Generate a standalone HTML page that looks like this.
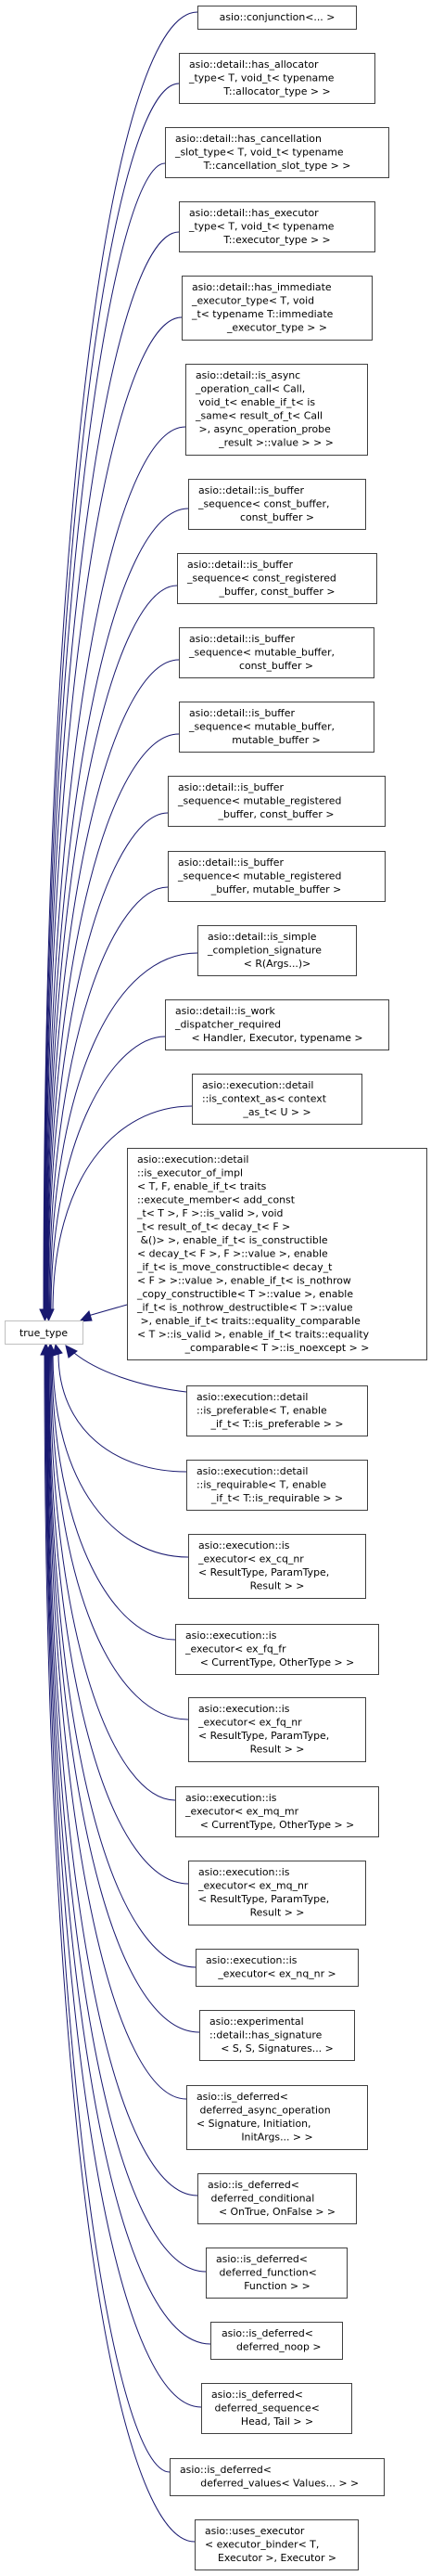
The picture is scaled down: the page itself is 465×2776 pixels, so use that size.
<!DOCTYPE html>
<html><head><meta charset="utf-8"><style>
html,body{margin:0;padding:0;background:#fff;}
svg{display:block;}
text{font-family:"DejaVu Sans","Liberation Sans",sans-serif;font-size:10.9px;fill:#000;white-space:pre;}
.b{fill:#fff;stroke:#404040;stroke-width:1;}
.e{fill:none;stroke:#191970;stroke-width:1;}
.a{fill:#191970;stroke:#191970;}
</style></head><body>
<svg width="465" height="2776" viewBox="0 0 465 2776" xmlns="http://www.w3.org/2000/svg" xml:space="preserve">
<path class="e" d="M213,13 C125,13 47,503 47,1413"/>
<path class="e" d="M193,90 C125,90 47.5,553 47.5,1413"/>
<path class="e" d="M178,176 C125,176 48,609 48,1413"/>
<path class="e" d="M193,250 C125,250 48.5,657 48.5,1413"/>
<path class="e" d="M196,342 C125,342 49,717 49,1413"/>
<path class="e" d="M200,460 C125,460 49.5,794 49.5,1413"/>
<path class="e" d="M203,548 C125,548 50,851 50,1413"/>
<path class="e" d="M191,631 C125,631 50.5,905 50.5,1413"/>
<path class="e" d="M193,711 C125,711 51,957 51,1413"/>
<path class="e" d="M193,791 C125,791 51.5,1009 51.5,1413"/>
<path class="e" d="M181,876 C125,876 52,1064 52,1413"/>
<path class="e" d="M181,956 C125,956 53,1116 53,1413"/>
<path class="e" d="M213,1027 C125,1027 54,1162 54,1413"/>
<path class="e" d="M178,1117 C125,1117 55,1221 55,1413"/>
<path class="e" d="M207,1192 C125,1192 57,1269 57,1413"/>
<path class="e" d="M137,1406 L95,1418"/>
<path class="e" d="M201,1500 C150,1494 105,1478 80,1458"/>
<path class="e" d="M201,1586 C125,1586 63,1541 63,1459"/>
<path class="e" d="M203,1678 C125,1678 57,1601 57,1459"/>
<path class="e" d="M189,1767 C125,1767 56,1659 56,1459"/>
<path class="e" d="M203,1853 C125,1853 55,1715 55,1459"/>
<path class="e" d="M189,1940 C125,1940 54,1772 54,1459"/>
<path class="e" d="M203,2030 C125,2030 53,1830 53,1459"/>
<path class="e" d="M211,2120 C125,2120 52.5,1889 52.5,1459"/>
<path class="e" d="M215,2190 C125,2190 52,1934 52,1459"/>
<path class="e" d="M201,2262 C125,2262 51.5,1981 51.5,1459"/>
<path class="e" d="M213,2366 C125,2366 51,2049 51,1459"/>
<path class="e" d="M222,2448 C125,2448 50.5,2102 50.5,1459"/>
<path class="e" d="M227,2526 C125,2526 50,2153 50,1459"/>
<path class="e" d="M217,2594 C125,2594 49.5,2197 49.5,1459"/>
<path class="e" d="M183,2664 C125,2664 49,2243 49,1459"/>
<path class="e" d="M210,2739 C125,2739 48,2291 48,1459"/>
<polygon class="a" points="43,1411 54,1411 48.5,1423"/>
<polygon class="a" points="47,1411 58,1411 52.5,1423"/>
<polygon class="a" points="44,1460 55,1460 49.5,1448"/>
<polygon class="a" points="49,1460 60,1460 54.5,1448"/>
<polygon class="a" points="57,1461 67,1458 60,1449"/>
<polygon class="a" points="74,1463 83,1456 71,1450"/>
<polygon class="a" points="96,1413 99,1423 86,1424"/>
<rect x="5.5" y="1423.5" width="84" height="25" fill="#fff" stroke="#bfbfbf"/>
<text x="47" y="1440" text-anchor="middle">true_type</text>

<rect class="b" x="213.5" y="6.5" width="171" height="25"/>
<text x="299" y="22" text-anchor="middle">asio::conjunction&lt;... &gt;</text>

<rect class="b" x="193.5" y="57.5" width="211" height="54"/>
<text x="204" y="73">asio::detail::has_allocator</text><text x="204" y="87.5">_type&lt; T, void_t&lt; typename</text><text x="299" y="102" text-anchor="middle">T::allocator_type &gt; &gt;</text>

<rect class="b" x="178.5" y="137.5" width="241" height="54"/>
<text x="189" y="153">asio::detail::has_cancellation</text><text x="189" y="167.5">_slot_type&lt; T, void_t&lt; typename</text><text x="299" y="182" text-anchor="middle">T::cancellation_slot_type &gt; &gt;</text>

<rect class="b" x="193.5" y="217.5" width="211" height="54"/>
<text x="204" y="233">asio::detail::has_executor</text><text x="204" y="247.5">_type&lt; T, void_t&lt; typename</text><text x="299" y="262" text-anchor="middle">T::executor_type &gt; &gt;</text>

<rect class="b" x="196.5" y="297.5" width="205" height="69"/>
<text x="207" y="313">asio::detail::has_immediate</text><text x="207" y="327.5">_executor_type&lt; T, void</text><text x="207" y="342">_t&lt; typename T::immediate</text><text x="299" y="356.5" text-anchor="middle">_executor_type &gt; &gt;</text>

<rect class="b" x="200.5" y="392.5" width="196" height="98"/>
<text x="211" y="408">asio::detail::is_async</text><text x="211" y="422.5">_operation_call&lt; Call,</text><text x="211" y="437"> void_t&lt; enable_if_t&lt; is</text><text x="211" y="451.5">_same&lt; result_of_t&lt; Call</text><text x="211" y="466"> &gt;, async_operation_probe</text><text x="298" y="480.5" text-anchor="middle">_result &gt;::value &gt; &gt; &gt;</text>

<rect class="b" x="203.5" y="516.5" width="191" height="54"/>
<text x="214" y="532">asio::detail::is_buffer</text><text x="214" y="546.5">_sequence&lt; const_buffer,</text><text x="299" y="561" text-anchor="middle">const_buffer &gt;</text>

<rect class="b" x="191.5" y="596.5" width="215" height="54"/>
<text x="202" y="612">asio::detail::is_buffer</text><text x="202" y="626.5">_sequence&lt; const_registered</text><text x="299" y="641" text-anchor="middle">_buffer, const_buffer &gt;</text>

<rect class="b" x="193.5" y="676.5" width="210" height="54"/>
<text x="204" y="692">asio::detail::is_buffer</text><text x="204" y="706.5">_sequence&lt; mutable_buffer,</text><text x="298" y="721" text-anchor="middle">const_buffer &gt;</text>

<rect class="b" x="193.5" y="756.5" width="210" height="54"/>
<text x="204" y="772">asio::detail::is_buffer</text><text x="204" y="786.5">_sequence&lt; mutable_buffer,</text><text x="298" y="801" text-anchor="middle">mutable_buffer &gt;</text>

<rect class="b" x="181.5" y="836.5" width="234" height="54"/>
<text x="192" y="852">asio::detail::is_buffer</text><text x="192" y="866.5">_sequence&lt; mutable_registered</text><text x="298" y="881" text-anchor="middle">_buffer, const_buffer &gt;</text>

<rect class="b" x="181.5" y="917.5" width="234" height="54"/>
<text x="192" y="933">asio::detail::is_buffer</text><text x="192" y="947.5">_sequence&lt; mutable_registered</text><text x="298" y="962" text-anchor="middle">_buffer, mutable_buffer &gt;</text>

<rect class="b" x="213.5" y="997.5" width="171" height="54"/>
<text x="224" y="1013">asio::detail::is_simple</text><text x="224" y="1027.5">_completion_signature</text><text x="299" y="1042" text-anchor="middle">&lt; R(Args...)&gt;</text>

<rect class="b" x="178.5" y="1077.5" width="241" height="54"/>
<text x="189" y="1093">asio::detail::is_work</text><text x="189" y="1107.5">_dispatcher_required</text><text x="299" y="1122" text-anchor="middle">&lt; Handler, Executor, typename &gt;</text>

<rect class="b" x="207.5" y="1157.5" width="183" height="54"/>
<text x="218" y="1173">asio::execution::detail</text><text x="218" y="1187.5">::is_context_as&lt; context</text><text x="299" y="1202" text-anchor="middle">_as_t&lt; U &gt; &gt;</text>

<rect class="b" x="137.5" y="1237.5" width="323" height="228"/>
<text x="148" y="1253">asio::execution::detail</text>
<text x="148" y="1267.5">::is_executor_of_impl</text>
<text x="148" y="1282">&lt; T, F, enable_if_t&lt; traits</text>
<text x="148" y="1296.5">::execute_member&lt; add_const</text>
<text x="148" y="1311">_t&lt; T &gt;, F &gt;::is_valid &gt;, void</text>
<text x="148" y="1325.5">_t&lt; result_of_t&lt; decay_t&lt; F &gt;</text>
<text x="148" y="1340"> &amp;()&gt; &gt;, enable_if_t&lt; is_constructible</text>
<text x="148" y="1354.5">&lt; decay_t&lt; F &gt;, F &gt;::value &gt;, enable</text>
<text x="148" y="1369">_if_t&lt; is_move_constructible&lt; decay_t</text>
<text x="148" y="1383.5">&lt; F &gt; &gt;::value &gt;, enable_if_t&lt; is_nothrow</text>
<text x="148" y="1398">_copy_constructible&lt; T &gt;::value &gt;, enable</text>
<text x="148" y="1412.5">_if_t&lt; is_nothrow_destructible&lt; T &gt;::value</text>
<text x="148" y="1427"> &gt;, enable_if_t&lt; traits::equality_comparable</text>
<text x="148" y="1441.5">&lt; T &gt;::is_valid &gt;, enable_if_t&lt; traits::equality</text>
<text x="299" y="1456" text-anchor="middle">_comparable&lt; T &gt;::is_noexcept &gt; &gt;</text>

<rect class="b" x="201.5" y="1493.5" width="195" height="54"/>
<text x="212" y="1509">asio::execution::detail</text><text x="212" y="1523.5">::is_preferable&lt; T, enable</text><text x="299" y="1538" text-anchor="middle">_if_t&lt; T::is_preferable &gt; &gt;</text>

<rect class="b" x="201.5" y="1573.5" width="195" height="54"/>
<text x="212" y="1589">asio::execution::detail</text><text x="212" y="1603.5">::is_requirable&lt; T, enable</text><text x="299" y="1618" text-anchor="middle">_if_t&lt; T::is_requirable &gt; &gt;</text>

<rect class="b" x="203.5" y="1653.5" width="191" height="69"/>
<text x="214" y="1669">asio::execution::is</text><text x="214" y="1683.5">_executor&lt; ex_cq_nr</text><text x="214" y="1698">&lt; ResultType, ParamType,</text><text x="299" y="1712.5" text-anchor="middle">Result &gt; &gt;</text>

<rect class="b" x="189.5" y="1750.5" width="219" height="54"/>
<text x="200" y="1766">asio::execution::is</text><text x="200" y="1780.5">_executor&lt; ex_fq_fr</text><text x="299" y="1795" text-anchor="middle">&lt; CurrentType, OtherType &gt; &gt;</text>

<rect class="b" x="203.5" y="1829.5" width="191" height="69"/>
<text x="214" y="1845">asio::execution::is</text><text x="214" y="1859.5">_executor&lt; ex_fq_nr</text><text x="214" y="1874">&lt; ResultType, ParamType,</text><text x="299" y="1888.5" text-anchor="middle">Result &gt; &gt;</text>

<rect class="b" x="189.5" y="1925.5" width="219" height="54"/>
<text x="200" y="1941">asio::execution::is</text><text x="200" y="1955.5">_executor&lt; ex_mq_mr</text><text x="299" y="1970" text-anchor="middle">&lt; CurrentType, OtherType &gt; &gt;</text>

<rect class="b" x="203.5" y="2005.5" width="191" height="69"/>
<text x="214" y="2021">asio::execution::is</text><text x="214" y="2035.5">_executor&lt; ex_mq_nr</text><text x="214" y="2050">&lt; ResultType, ParamType,</text><text x="299" y="2064.5" text-anchor="middle">Result &gt; &gt;</text>

<rect class="b" x="211.5" y="2100.5" width="175" height="40"/>
<text x="222" y="2116">asio::execution::is</text><text x="299" y="2130.5" text-anchor="middle">_executor&lt; ex_nq_nr &gt;</text>

<rect class="b" x="215.5" y="2166.5" width="167" height="54"/>
<text x="226" y="2182">asio::experimental</text><text x="226" y="2196.5">::detail::has_signature</text><text x="299" y="2211" text-anchor="middle">&lt; S, S, Signatures... &gt;</text>

<rect class="b" x="201.5" y="2247.5" width="195" height="69"/>
<text x="212" y="2263">asio::is_deferred&lt;</text><text x="212" y="2277.5"> deferred_async_operation</text><text x="212" y="2292">&lt; Signature, Initiation,</text><text x="299" y="2306.5" text-anchor="middle">InitArgs... &gt; &gt;</text>

<rect class="b" x="213.5" y="2342.5" width="171" height="54"/>
<text x="224" y="2358">asio::is_deferred&lt;</text><text x="224" y="2372.5"> deferred_conditional</text><text x="299" y="2387" text-anchor="middle">&lt; OnTrue, OnFalse &gt; &gt;</text>

<rect class="b" x="222.5" y="2422.5" width="152" height="54"/>
<text x="233" y="2438">asio::is_deferred&lt;</text><text x="233" y="2452.5"> deferred_function&lt;</text><text x="299" y="2467" text-anchor="middle">Function &gt; &gt;</text>

<rect class="b" x="227.5" y="2502.5" width="142" height="40"/>
<text x="239" y="2518">asio::is_deferred&lt;</text><text x="299" y="2532.5" text-anchor="middle"> deferred_noop &gt;</text>

<rect class="b" x="217.5" y="2568.5" width="162" height="54"/>
<text x="228" y="2584">asio::is_deferred&lt;</text><text x="228" y="2598.5"> deferred_sequence&lt;</text><text x="299" y="2613" text-anchor="middle">Head, Tail &gt; &gt;</text>

<rect class="b" x="183.5" y="2649.5" width="231" height="40"/>
<text x="194" y="2665">asio::is_deferred&lt;</text><text x="300" y="2679.5" text-anchor="middle"> deferred_values&lt; Values... &gt; &gt;</text>

<rect class="b" x="210.5" y="2715.5" width="176" height="54"/>
<text x="221" y="2731">asio::uses_executor</text><text x="221" y="2745.5">&lt; executor_binder&lt; T,</text><text x="299" y="2760" text-anchor="middle">Executor &gt;, Executor &gt;</text>
</svg>
</body></html>
